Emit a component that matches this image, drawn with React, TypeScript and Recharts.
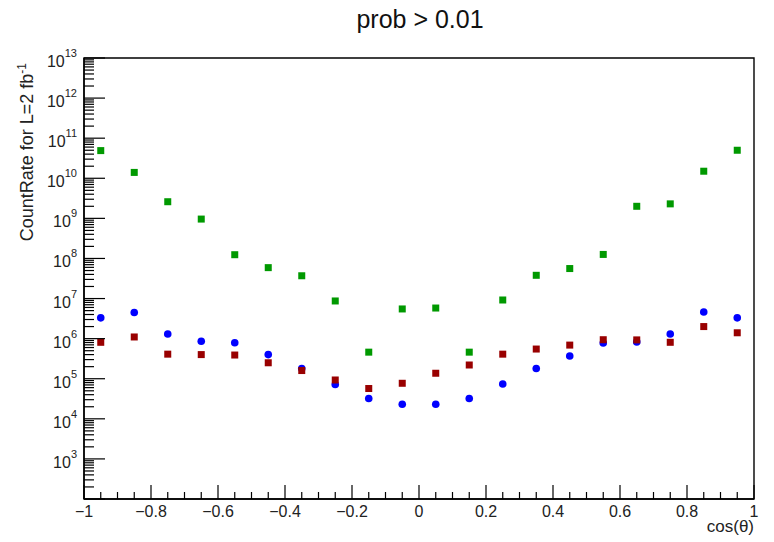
import React from "react";
import { ScatterChart, Scatter, XAxis, YAxis, ReferenceArea } from "recharts";

// bin centres in cos(theta)
const bins = [
  -0.95, -0.85, -0.75, -0.65, -0.55, -0.45, -0.35, -0.25, -0.15, -0.05,
  0.05, 0.15, 0.25, 0.35, 0.45, 0.55, 0.65, 0.75, 0.85, 0.95,
];

// count rates per bin
const greenRates = [
  4.9e10, 1.4e10, 2.6e9, 9.6e8, 1.24e8, 5.9e7, 3.7e7, 8.7e6, 4.6e5, 5.5e6,
  5.8e6, 4.6e5, 9.2e6, 3.8e7, 5.6e7, 1.26e8, 2.0e9, 2.3e9, 1.5e10, 5.0e10,
];
const blueRates = [
  3.3e6, 4.5e6, 1.3e6, 8.6e5, 7.9e5, 4.0e5, 1.8e5, 7.2e4, 3.2e4, 2.3e4,
  2.3e4, 3.2e4, 7.4e4, 1.8e5, 3.7e5, 7.8e5, 8.3e5, 1.3e6, 4.6e6, 3.3e6,
];
const redRates = [
  8.1e5, 1.1e6, 4.1e5, 4.0e5, 3.9e5, 2.5e5, 1.6e5, 9.3e4, 5.7e4, 7.7e4,
  1.37e5, 2.2e5, 4.1e5, 5.5e5, 6.9e5, 9.4e5, 9.3e5, 8.1e5, 2.0e6, 1.4e6,
];

const xMajorTicks = [-1, -0.8, -0.6, -0.4, -0.2, 0, 0.2, 0.4, 0.6, 0.8, 1];
const yDecades = [2, 3, 4, 5, 6, 7, 8, 9, 10, 11, 12, 13];

const FONT = "'Liberation Sans', Arial, Helvetica, sans-serif";

const toPoints = (vals: number[]) => bins.map((x, i) => ({ x, y: vals[i] }));
const greenData = toPoints(greenRates);
const blueData = toPoints(blueRates);
const redData = toPoints(redRates);

// minor ticks: every 0.05 on x, 2..9 x 10^n on y
const xTicks: number[] = [];
for (let i = 0; i <= 40; i++) xTicks.push(Math.round((-1 + i * 0.05) * 100) / 100);
const yTicks: number[] = [];
yDecades.forEach((e) => {
  yTicks.push(Math.pow(10, e));
  if (e < 13) for (let k = 2; k <= 9; k++) yTicks.push(k * Math.pow(10, e));
});

const fmtX = (v: number) => {
  if (v === 0) return "0";
  return v < 0 ? "\u2212" + Math.abs(v) : String(v);
};

const XTick = (props: any) => {
  const { x, y, payload } = props;
  const v = payload.value;
  const major = xMajorTicks.some((t) => Math.abs(t - v) < 1e-6);
  return (
    <g>
      <line x1={x} x2={x} y1={y} y2={y - (major ? 14 : 7)} stroke="#000" strokeWidth={1.2} />
      {major && (
        <text x={x} y={y + 18} textAnchor="middle" fontSize={16} fontFamily={FONT} fill="#222">
          {fmtX(v)}
        </text>
      )}
    </g>
  );
};

const YTick = (props: any) => {
  const { x, y, payload } = props;
  const v = payload.value;
  const exp = Math.round(Math.log10(v));
  const major = Math.abs(v - Math.pow(10, exp)) < 1e-6 * v;
  return (
    <g>
      <line x1={x} x2={x + (major ? 21 : 10)} y1={y} y2={y} stroke="#000" strokeWidth={1.2} />
      {major && exp >= 3 && (
        <text x={x - 7} y={y + 9} textAnchor="end" fontSize={16} fontFamily={FONT} fill="#222">
          10
          <tspan dy={-10} fontSize={11}>
            {exp}
          </tspan>
        </text>
      )}
    </g>
  );
};

const Square = (color: string) => (props: any) => {
  const { cx, cy } = props;
  return <rect x={cx - 3.5} y={cy - 3.5} width={7} height={7} fill={color} />;
};

const Dot = (props: any) => {
  const { cx, cy } = props;
  return <circle cx={cx} cy={cy} r={3.8} fill="#0000ff" />;
};

export default function App() {
  return (
    <div style={{ position: "absolute", left: 0, top: 0, width: 774, height: 542, background: "#fff" }}>
      <ScatterChart width={774} height={542} margin={{ top: 58, right: 20, bottom: 0, left: 0 }}>
        <XAxis
          dataKey="x"
          type="number"
          domain={[-1, 1]}
          ticks={xTicks}
          interval={0}
          height={43}
          tickSize={0}
          tickMargin={0}
          tickLine={false}
          tick={<XTick />}
          axisLine={{ stroke: "#000", strokeWidth: 1.4 }}
        />
        <YAxis
          dataKey="y"
          type="number"
          scale="log"
          domain={[100, 1e13]}
          allowDataOverflow
          ticks={yTicks}
          interval={0}
          width={84}
          tickSize={0}
          tickMargin={0}
          tickLine={false}
          tick={<YTick />}
          axisLine={{ stroke: "#000", strokeWidth: 1.4 }}
        />
        <ReferenceArea
          x1={-1}
          x2={1}
          y1={100}
          y2={1e13}
          fill="none"
          stroke="#000"
          strokeWidth={1.4}
          ifOverflow="visible"
        />
        <Scatter data={greenData} fill="#009900" shape={Square("#009900")} isAnimationActive={false} />
        <Scatter data={blueData} fill="#0000ff" shape={Dot} isAnimationActive={false} />
        <Scatter data={redData} fill="#990000" shape={Square("#990000")} isAnimationActive={false} />
      </ScatterChart>
      <svg
        width={774}
        height={542}
        style={{ position: "absolute", left: 0, top: 0, pointerEvents: "none" }}
      >
        <text x={420} y={28} textAnchor="middle" fontSize={25} fontFamily={FONT} fill="#111">
          prob &gt; 0.01
        </text>
        <text
          x={33}
          y={63}
          transform="rotate(-90 33 63)"
          textAnchor="end"
          fontSize={18}
          fontFamily={FONT}
          fill="#222"
        >
          CountRate for L=2 fb
          <tspan dy={-7} fontSize={12}>
            -1
          </tspan>
        </text>
        <text x={754} y={532} textAnchor="end" fontSize={17} fontFamily={FONT} fill="#222">
          cos(θ)
        </text>
      </svg>
    </div>
  );
}
